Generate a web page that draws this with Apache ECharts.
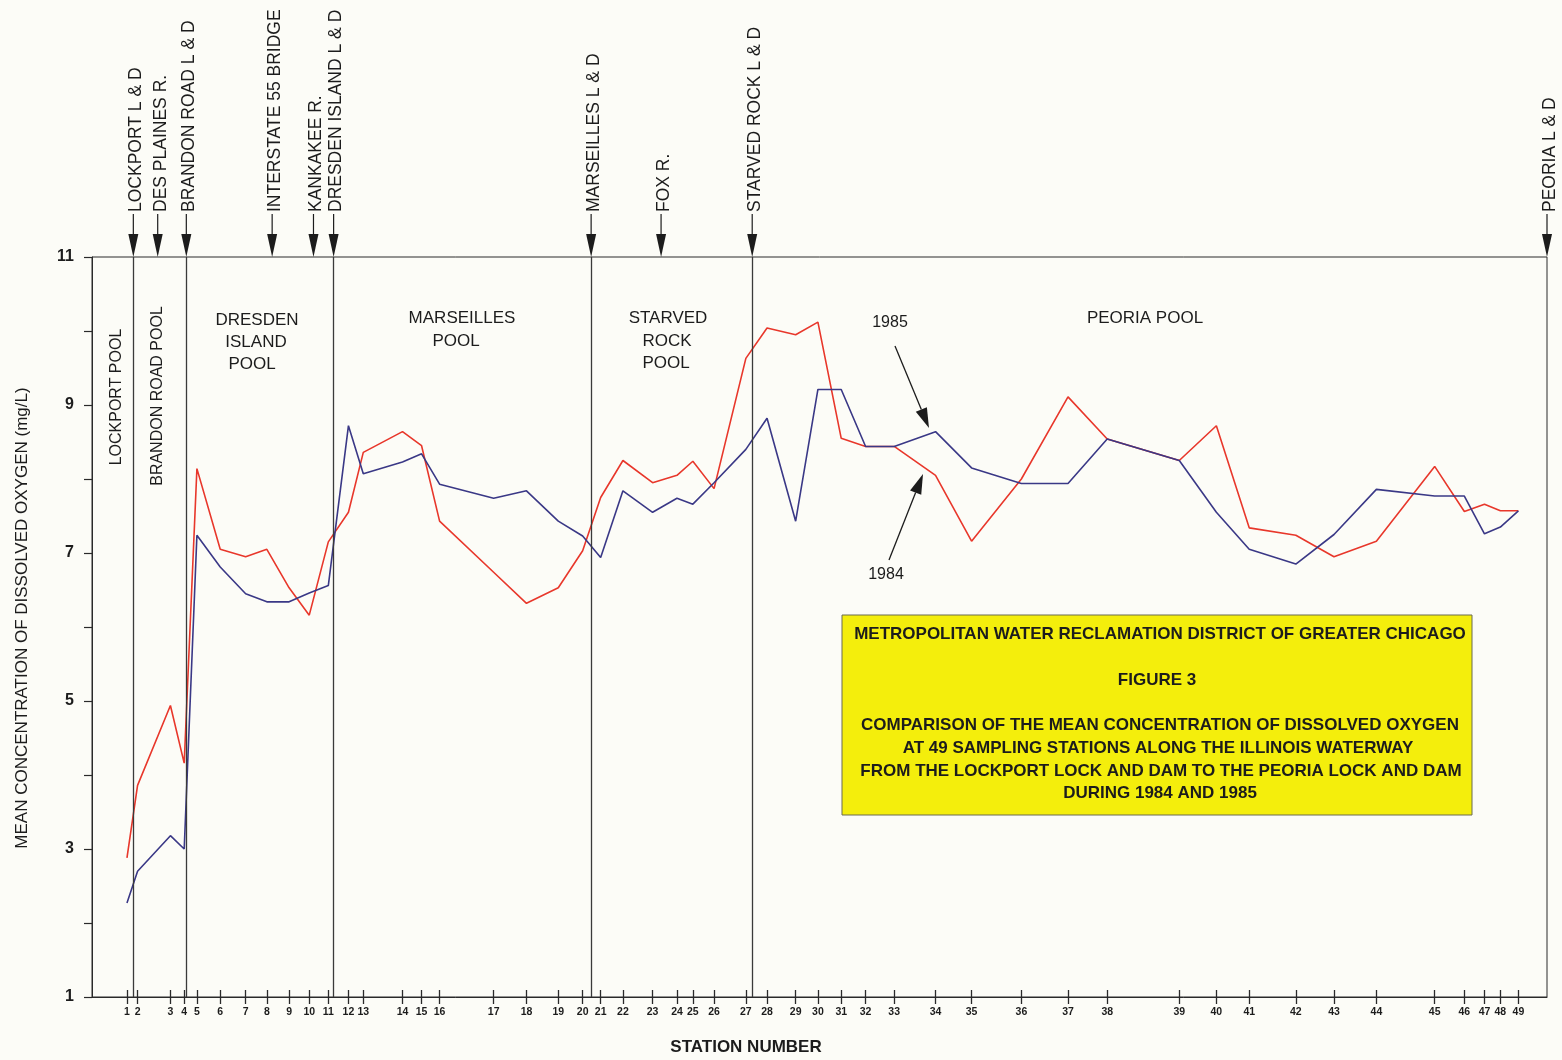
<!DOCTYPE html>
<html>
<head>
<meta charset="utf-8">
<script src="https://cdn.jsdelivr.net/npm/echarts@6/dist/echarts.min.js"></script>
<style>
  html, body { margin: 0; padding: 0; background: #fcfcf7; }
  #chart { width: 1562px; height: 1060px; }
</style>
</head>
<body>
<div id="chart"></div>
<script>
// Sampling stations along the Illinois Waterway, located by river mile
const stationNumbers = [
  1, 2, 3, 4, 5, 6, 7, 8, 9, 10, 11, 12, 13, 14, 15, 16, 17, 18, 19, 20,
  21, 22, 23, 24, 25, 26, 27, 28, 29, 30, 31, 32, 33, 34, 35, 36, 37, 38, 39, 40,
  41, 42, 43, 44, 45, 46, 47, 48, 49
];
const stationMile = [
  291.7, 290.7, 287.6, 286.3, 285.1, 282.9, 280.5, 278.5, 276.4, 274.5,
  272.7, 270.8, 269.4, 265.7, 263.9, 262.2, 257.1, 254.0, 251.0, 248.7,
  247.0, 244.9, 242.1, 239.8, 238.3, 236.3, 233.3, 231.3, 228.6, 226.5,
  224.3, 222.0, 219.3, 215.4, 212.0, 207.3, 202.9, 199.2, 192.4, 188.9,
  185.8, 181.4, 177.8, 173.8, 168.3, 165.5, 163.6, 162.1, 160.4
];

// Mean dissolved oxygen (mg/L) per station
const do1984 = [
  2.88, 3.86, 4.94, 4.16, 8.14, 7.05, 6.95, 7.05, 6.53, 6.16,
  7.15, 7.55, 8.36, 8.64, 8.45, 7.43, 6.74, 6.32, 6.53, 7.03,
  7.75, 8.25, 7.95, 8.05, 8.24, 7.87, 9.63, 10.04, 9.95, 10.12,
  8.55, 8.44, 8.44, 8.05, 7.16, 8.00, 9.11, 8.54, 8.25, 8.72,
  7.34, 7.24, 6.95, 7.16, 8.17, 7.56, 7.66, 7.57, 7.57
];
const do1985 = [
  2.27, 2.70, 3.18, 3.00, 7.24, 6.81, 6.45, 6.34, 6.34, 6.46,
  6.56, 8.72, 8.07, 8.23, 8.34, 7.93, 7.74, 7.84, 7.43, 7.23,
  6.94, 7.84, 7.55, 7.74, 7.66, 7.95, 8.40, 8.82, 7.43, 9.21,
  9.21, 8.44, 8.44, 8.64, 8.15, 7.94, 7.94, 8.54, 8.25, 7.55,
  7.05, 6.85, 7.25, 7.86, 7.77, 7.77, 7.26, 7.35, 7.57
];

// Landmarks marked above the plot
const landmarkNames = [
  'LOCKPORT L & D', 'DES PLAINES R.', 'BRANDON ROAD L & D', 'INTERSTATE 55 BRIDGE',
  'KANKAKEE R.', 'DRESDEN ISLAND L & D', 'MARSEILLES L & D', 'FOX R.',
  'STARVED ROCK L & D', 'PEORIA L & D'
];
const landmarkMile = [291.1, 288.8, 286.1, 278.0, 274.1, 272.2, 247.9, 241.3, 232.7, 157.7];

// Locks and dams drawn as pool boundaries
const lockMile = [291.1, 286.1, 272.2, 247.9, 232.7];

// Axis extent and labelled y ticks
const mileUpstream = 295.0;
const mileDownstream = 157.7;
const yTickLabels = [1, 3, 5, 7, 9, 11];

const FONT = '"Liberation Sans", Arial, Helvetica, sans-serif';
const INK = '#1c1c1c';
const RED = '#e8372b';
const BLUE = '#3a3886';

const labelOfMile = new Map(stationMile.map((m, i) => [m, String(stationNumbers[i])]));

function arrowGraphic(x1, y1, x2, y2, head, half) {
  const dx = x2 - x1, dy = y2 - y1;
  const len = Math.sqrt(dx * dx + dy * dy);
  const ux = dx / len, uy = dy / len;
  const bx = x2 - ux * head, by = y2 - uy * head;
  return [
    { type: 'line', silent: true, shape: { x1: x1, y1: y1, x2: bx, y2: by },
      style: { stroke: INK, lineWidth: 1.3 } },
    { type: 'polygon', silent: true,
      shape: { points: [[x2, y2], [bx - uy * half, by + ux * half], [bx + uy * half, by - ux * half]] },
      style: { fill: INK } }
  ];
}

function text(x, y, str, opts) {
  return Object.assign({
    type: 'text', x: x, y: y, silent: true,
    style: Object.assign({
      text: str, fill: INK, font: '17px ' + FONT,
      textAlign: 'center', textVerticalAlign: 'middle'
    }, opts && opts.style)
  }, opts && opts.el);
}

const chart = echarts.init(document.getElementById('chart'), null, { renderer: 'canvas' });

const xAxisBase = {
  type: 'value',
  min: mileDownstream,
  max: mileUpstream,
  inverse: true,
  position: 'bottom',
  splitLine: { show: false }
};

const BOX_FONT = 'bold 17px ' + FONT;

const option = {
  backgroundColor: '#fcfcf7',
  animation: false,
  grid: {
    left: 92, right: 15, top: 257, bottom: 63,
    show: true, borderColor: '#2a2a2a', borderWidth: 1,
    outerBoundsMode: 'none'
  },
  xAxis: [
    Object.assign({}, xAxisBase, {
      axisLine: { show: true, lineStyle: { color: '#2a2a2a', width: 1 } },
      axisTick: { show: true, inside: false, length: 7, customValues: stationMile,
        lineStyle: { color: '#2a2a2a', width: 1.3 } },
      axisLabel: {
        show: true, customValues: stationMile, margin: 10,
        color: INK, fontFamily: FONT, fontSize: 10.5, fontWeight: 'bold',
        formatter: function (v) { return labelOfMile.has(v) ? labelOfMile.get(v) : ''; }
      }
    }),
    Object.assign({}, xAxisBase, {
      axisLine: { show: false },
      axisTick: { show: true, inside: true, length: 7, customValues: stationMile,
        lineStyle: { color: '#2a2a2a', width: 1.3 } },
      axisLabel: { show: false }
    })
  ],
  yAxis: {
    type: 'value',
    min: 1, max: 11, interval: 1,
    splitLine: { show: false },
    axisLine: { show: true, lineStyle: { color: '#2a2a2a', width: 1 } },
    axisTick: { show: true, inside: false, length: 8, lineStyle: { color: '#2a2a2a', width: 1.2 } },
    axisLabel: {
      customValues: yTickLabels, margin: 18,
      color: INK, fontFamily: FONT, fontSize: 16, fontWeight: 'bold'
    }
  },
  series: [
    {
      name: '1984',
      type: 'line',
      xAxisIndex: 0,
      data: stationMile.map((m, i) => [m, do1984[i]]),
      symbol: 'none',
      lineStyle: { color: RED, width: 1.6 },
      z: 3,
      markLine: {
        silent: true,
        symbol: ['none', 'none'],
        label: { show: false },
        lineStyle: { type: 'solid', color: '#3a3a3a', width: 1.3 },
        data: lockMile.map(m => ({ xAxis: m }))
      }
    },
    {
      name: '1985',
      type: 'line',
      xAxisIndex: 0,
      data: stationMile.map((m, i) => [m, do1985[i]]),
      symbol: 'none',
      lineStyle: { color: BLUE, width: 1.6 },
      z: 4
    },
    {
      // Landmark arrows and names above the frame
      type: 'custom',
      xAxisIndex: 0,
      clip: false,
      silent: true,
      data: landmarkMile.map((m, i) => [m, 11, i]),
      renderItem: function (params, api) {
        const p = api.coord([api.value(0), api.value(1)]);
        const x = p[0], y = p[1];
        const name = landmarkNames[api.value(2)];
        return {
          type: 'group',
          children: [
            { type: 'line', shape: { x1: x, y1: y - 43, x2: x, y2: y - 20 },
              style: { stroke: INK, lineWidth: 1.2 } },
            { type: 'polygon', shape: { points: [[x - 5, y - 23], [x + 5, y - 23], [x, y]] },
              style: { fill: INK } },
            { type: 'text', x: x + 3, y: y - 45, rotation: Math.PI / 2,
              style: { text: name, fill: INK, font: '17.5px ' + FONT,
                textAlign: 'left', textVerticalAlign: 'middle' } }
          ]
        };
      }
    }
  ],
  graphic: [
    // Pool names
    text(117, 397, 'LOCKPORT POOL', { el: { rotation: Math.PI / 2 }, style: { font: '16px ' + FONT } }),
    text(158, 396, 'BRANDON ROAD POOL', { el: { rotation: Math.PI / 2 }, style: { font: '16px ' + FONT } }),
    text(257, 320, 'DRESDEN'),
    text(256, 342, 'ISLAND'),
    text(252, 364, 'POOL'),
    text(462, 318, 'MARSEILLES'),
    text(456, 341, 'POOL'),
    text(668, 318, 'STARVED'),
    text(667, 341, 'ROCK'),
    text(666, 363, 'POOL'),
    text(1145, 318, 'PEORIA POOL'),
    // Year callouts
    text(890, 323, '1985', { style: { font: '16px ' + FONT } }),
    text(886, 575, '1984', { style: { font: '16px ' + FONT } }),
    // y-axis title
    text(22, 618, 'MEAN CONCENTRATION OF DISSOLVED OXYGEN (mg/L)',
      { el: { rotation: Math.PI / 2 }, style: { font: '17px ' + FONT } })
  ]
    .concat(arrowGraphic(895, 346, 929, 428, 20, 6))
    .concat(arrowGraphic(889, 560, 923, 474, 20, 6))
    .concat([
      // Title block
      { type: 'rect', silent: true, shape: { x: 842, y: 615, width: 630, height: 200 },
        style: { fill: '#f4ee0c', stroke: '#6a6a50', lineWidth: 1 } },
      text(1160, 634, 'METROPOLITAN WATER RECLAMATION DISTRICT OF GREATER CHICAGO',
        { style: { font: BOX_FONT } }),
      text(1157, 680, 'FIGURE 3', { style: { font: BOX_FONT } }),
      text(1160, 725, 'COMPARISON OF THE MEAN CONCENTRATION OF DISSOLVED OXYGEN',
        { style: { font: BOX_FONT } }),
      text(1158, 748, 'AT 49 SAMPLING STATIONS ALONG THE ILLINOIS WATERWAY',
        { style: { font: BOX_FONT } }),
      text(1161, 771, 'FROM THE LOCKPORT LOCK AND DAM TO THE PEORIA LOCK AND DAM',
        { style: { font: BOX_FONT } }),
      text(1160, 793, 'DURING 1984 AND 1985', { style: { font: BOX_FONT } }),
      // x-axis title
      text(746, 1047, 'STATION NUMBER', { style: { font: 'bold 17px ' + FONT } })
    ])
};

chart.setOption(option);
</script>
</body>
</html>
